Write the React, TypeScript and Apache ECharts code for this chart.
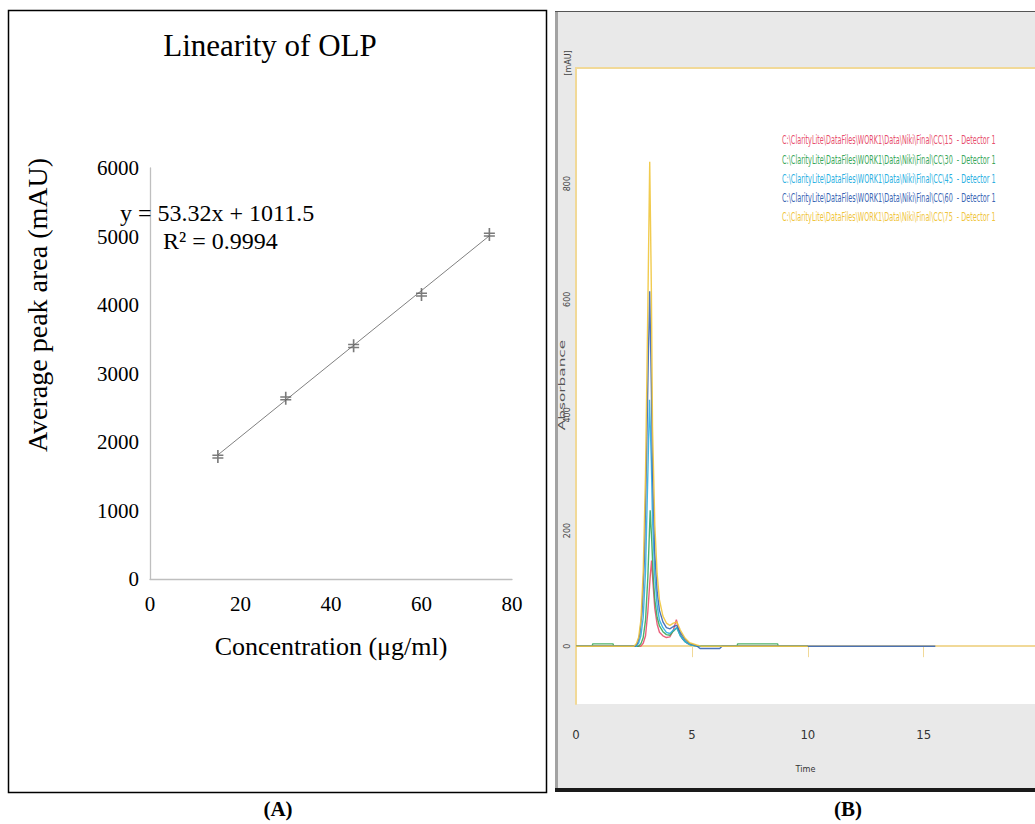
import React, { useEffect, useRef } from "react";
import * as echarts from "echarts";

// ---------- Panel A data ----------
const concentration = [15, 30, 45, 60, 75];
const peakArea = [1790, 2640, 3405, 4155, 5030];
const trendX = [15, 75];
const trendY = [1811.3, 5010.5];
const equationText = "y = 53.32x + 1011.5";
const r2Text = "R² = 0.9994";

// ---------- Panel B data (time [min], absorbance [mAU]) ----------
const cc15: number[][] = [[0,0],[2.8,0],[2.9,5],[3.0,18],[3.1,60],[3.2,120],[3.26,148],[3.32,110],[3.4,65],[3.5,38],[3.6,24],[3.75,18],[3.9,15],[4.05,16],[4.2,28],[4.33,46],[4.45,25],[4.6,12],[4.8,5],[5.0,2],[5.3,0],[10,0]];
const cc30: number[][] = [[0,0],[0.7,0],[0.72,4],[1.6,4],[1.62,0],[2.7,0],[2.8,4],[2.9,15],[3.0,45],[3.1,120],[3.2,235],[3.27,180],[3.33,120],[3.4,80],[3.5,50],[3.6,35],[3.75,25],[3.9,20],[4.05,19],[4.2,26],[4.35,32],[4.5,18],[4.7,8],[4.9,3],[5.2,0],[6.95,0],[6.97,4],[8.7,4],[8.72,0],[10,0]];
const cc45: number[][] = [[0,0],[2.6,0],[2.7,5],[2.8,18],[2.9,50],[3.0,130],[3.1,300],[3.17,426],[3.25,320],[3.3,220],[3.4,120],[3.5,70],[3.6,45],[3.75,32],[3.9,24],[4.05,22],[4.2,28],[4.35,32],[4.5,18],[4.7,8],[4.9,3],[5.2,0],[10,0]];
const cc60: number[][] = [[0,0],[2.55,0],[2.65,5],[2.75,20],[2.85,60],[2.95,150],[3.05,340],[3.12,500],[3.18,614],[3.25,450],[3.3,300],[3.4,160],[3.5,95],[3.6,62],[3.75,42],[3.9,32],[4.05,30],[4.2,34],[4.35,36],[4.5,24],[4.7,12],[4.9,5],[5.2,1],[5.35,-4],[6.2,-4],[6.3,0],[15.5,0]];
const cc75: number[][] = [[0,0],[2.5,0],[2.6,4],[2.7,15],[2.8,45],[2.9,130],[3.0,300],[3.1,590],[3.18,838],[3.25,620],[3.3,380],[3.4,210],[3.5,125],[3.6,80],[3.75,52],[3.9,40],[4.05,36],[4.2,40],[4.35,42],[4.5,28],[4.7,14],[4.9,6],[5.2,2],[5.4,0],[10,0]];

const chromSeries = [cc15, cc30, cc45, cc60, cc75];
const chromColors = ["#e8506e", "#3aa85a", "#2bb0e2", "#3a66b4", "#f0c53c"];
const legendLabels = [
  "C:\\ClarityLite\\DataFiles\\WORK1\\Data\\Niki\\Final\\CC\\15  - Detector 1",
  "C:\\ClarityLite\\DataFiles\\WORK1\\Data\\Niki\\Final\\CC\\30  - Detector 1",
  "C:\\ClarityLite\\DataFiles\\WORK1\\Data\\Niki\\Final\\CC\\45  - Detector 1",
  "C:\\ClarityLite\\DataFiles\\WORK1\\Data\\Niki\\Final\\CC\\60  - Detector 1",
  "C:\\ClarityLite\\DataFiles\\WORK1\\Data\\Niki\\Final\\CC\\75  - Detector 1",
];

const SERIF = "'Liberation Serif', 'Times New Roman', serif";
const SANS = "'DejaVu Sans', 'Liberation Sans', sans-serif";
const NARROW = "'Liberation Sans Narrow', 'DejaVu Sans Condensed', 'Liberation Sans', sans-serif";
const GOLD = "#f1d998";

export default function App() {
  const ref = useRef<HTMLDivElement>(null);
  useEffect(() => {
    const chart = echarts.init(ref.current!, null, { renderer: "svg" });
    const ctx = document.createElement("canvas").getContext("2d")!;
    const legendFont = "13px 'DejaVu Sans'";
    ctx.font = legendFont;
    const legendY = [139, 159, 178, 197, 216];
    const legendEls = legendLabels.map((txt, i) => {
      const w = ctx.measureText(txt).width || 500;
      return {
        type: "text", x: 782, y: legendY[i], scaleX: 214 / w, z: 100,
        style: { text: txt, fill: chromColors[i], font: legendFont, verticalAlign: "middle", align: "left" },
      };
    });

    const option: any = {
      animation: false,
      backgroundColor: "#ffffff",
      graphic: {
        elements: [
          // Panel A frame
          { type: "rect", z: -10, shape: { x: 8.5, y: 10.5, width: 538, height: 782 }, style: { fill: "#fff", stroke: "#000", lineWidth: 1.5 } },
          { type: "text", x: 270, y: 45, z: 100, style: { text: "Linearity of OLP", font: `31px ${SERIF}`, fill: "#000", align: "center", verticalAlign: "middle" } },
          { type: "text", x: 37, y: 305, rotation: Math.PI / 2, z: 100, style: { text: "Average peak area (mAU)", font: `28px ${SERIF}`, fill: "#000", align: "center", verticalAlign: "middle" } },
          { type: "text", x: 120, y: 213, z: 100, style: { text: equationText, font: `24px ${SERIF}`, fill: "#000", align: "left", verticalAlign: "middle" } },
          { type: "text", x: 163, y: 241, z: 100, style: { text: r2Text, font: `24px ${SERIF}`, fill: "#000", align: "left", verticalAlign: "middle" } },
          // Panel labels
          { type: "text", x: 278, y: 809, z: 100, style: { text: "(A)", font: `bold 21px ${SERIF}`, fill: "#000", align: "center", verticalAlign: "middle" } },
          { type: "text", x: 848, y: 809, z: 100, style: { text: "(B)", font: `bold 21px ${SERIF}`, fill: "#000", align: "center", verticalAlign: "middle" } },
          // Panel B frame
          { type: "rect", z: -10, shape: { x: 555, y: 11, width: 480, height: 779 }, style: { fill: "#e9e9e9" } },
          { type: "rect", z: -9, shape: { x: 555, y: 11, width: 3, height: 779 }, style: { fill: "#a3a3a3" } },
          { type: "line", z: -9, shape: { x1: 555, y1: 11.5, x2: 1035, y2: 11.5 }, style: { stroke: "#555", lineWidth: 1 } },
          { type: "rect", z: -9, shape: { x: 555, y: 788, width: 480, height: 4 }, style: { fill: "#1a1a1a" } },
          { type: "rect", z: -8, shape: { x: 576, y: 68, width: 459, height: 636 }, style: { fill: "#ffffff" } },
          { type: "line", z: 50, shape: { x1: 575, y1: 68, x2: 1035, y2: 68 }, style: { stroke: GOLD, lineWidth: 2 } },
          { type: "text", x: 568, y: 63, rotation: Math.PI / 2, z: 100, style: { text: "[mAU]", font: `8px ${SANS}`, fill: "#444", align: "center", verticalAlign: "middle" } },
          { type: "text", x: 562, y: 385, rotation: Math.PI / 2, scaleX: 1.7, z: 100, style: { text: "Absorbance", font: `9px ${SANS}`, fill: "#555", align: "center", verticalAlign: "middle" } },
          ...legendEls,
        ],
      },
      grid: [
        { left: 150, top: 168, width: 362, height: 411 },
        { left: 576, top: 68, width: 459, height: 636 },
      ],
      xAxis: [
        {
          gridIndex: 0, type: "value", min: 0, max: 80, interval: 20,
          axisLine: { show: true, lineStyle: { color: "#bfbfbf", width: 1.3 } },
          axisTick: { show: false }, splitLine: { show: false },
          axisLabel: { fontFamily: SERIF, fontSize: 21, color: "#000", margin: 14, formatter: (v: number) => String(v) },
          name: "Concentration (μg/ml)", nameLocation: "middle", nameGap: 54,
          nameTextStyle: { fontFamily: SERIF, fontSize: 26, color: "#000" },
        },
        {
          gridIndex: 1, type: "value", min: 0, max: 19.8, interval: 5,
          axisLine: { show: true, lineStyle: { color: GOLD, width: 2 } },
          axisTick: { show: true, length: 11, lineStyle: { color: GOLD, width: 1 } },
          splitLine: { show: false },
          axisLabel: { fontFamily: NARROW, fontSize: 13, color: "#333", margin: 24, showMaxLabel: false },
          name: "Time", nameLocation: "middle", nameGap: 60,
          nameTextStyle: { fontFamily: NARROW, fontSize: 9, color: "#333" },
        },
      ],
      yAxis: [
        {
          gridIndex: 0, type: "value", min: 0, max: 6000, interval: 1000,
          axisLine: { show: true, lineStyle: { color: "#bfbfbf", width: 1.3 } },
          axisTick: { show: false }, splitLine: { show: false },
          axisLabel: { fontFamily: SERIF, fontSize: 21, color: "#000", margin: 11, formatter: (v: number) => String(v) },
        },
        {
          gridIndex: 1, type: "value", min: -100, max: 1000, interval: 100,
          axisLine: { show: true, lineStyle: { color: GOLD, width: 2 } },
          axisTick: { show: false }, splitLine: { show: false },
          axisLabel: {
            fontFamily: SANS, fontSize: 8, color: "#444", rotate: 90, margin: 5,
            formatter: (v: number) => (v >= 0 && v <= 800 && v % 200 === 0 ? String(v) : ""),
          },
        },
      ],
      series: [
        {
          type: "line", xAxisIndex: 0, yAxisIndex: 0, showSymbol: false, silent: true,
          data: trendX.map((x, i) => [x, trendY[i]]),
          lineStyle: { color: "#808080", width: 1 }, z: 2,
        },
        {
          type: "scatter", xAxisIndex: 0, yAxisIndex: 0,
          data: concentration.map((c, i) => [c, peakArea[i]]),
          symbol: "path://M4.6,0h1.6v13h-1.6z M0,4.6h10.8v1.5h-10.8z M0,7.4h10.8v1.5h-10.8z",
          symbolSize: [11, 13], itemStyle: { color: "#595959" }, z: 3,
        },
        ...chromSeries.map((d, i) => ({
          type: "line", xAxisIndex: 1, yAxisIndex: 1, showSymbol: false, silent: true,
          data: d, lineStyle: { color: chromColors[i], width: 1.4, opacity: 0.9 }, z: 2 + i * 0.1,
        })),
      ],
    };
    chart.setOption(option);
    return () => chart.dispose();
  }, []);
  return <div ref={ref} style={{ position: "fixed", left: 0, top: 0, width: 1035, height: 824 }} />;
}
